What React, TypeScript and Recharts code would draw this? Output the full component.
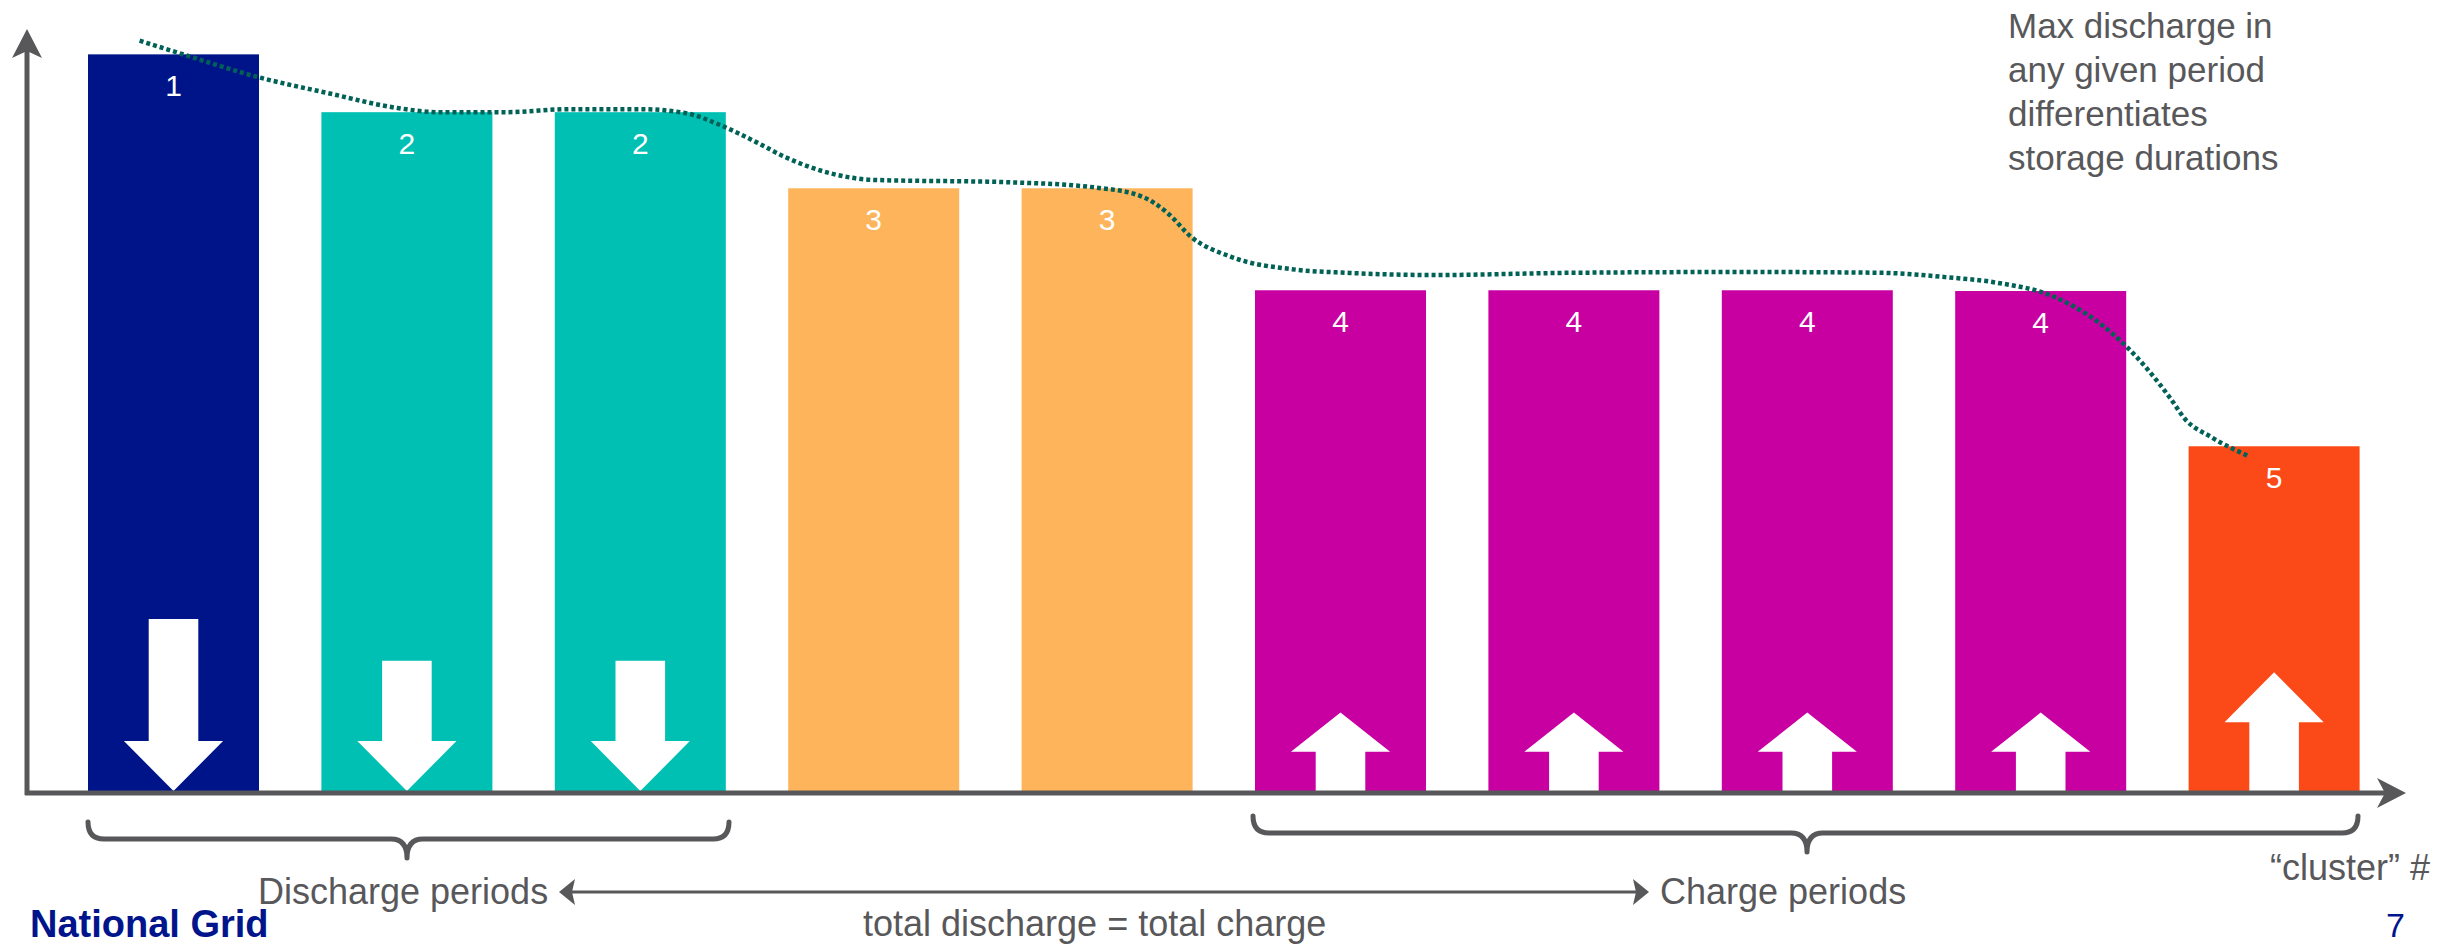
import { Bar, ComposedChart, Cell, LabelList, Line, XAxis, YAxis } from 'recharts';

// ten periods, grouped into "clusters" by their peak discharge level
const clusters = ['1', '2', '2', '3', '3', '4', '4', '4', '4', '5'];
const peakValues = [96.8, 89.2, 89.2, 79.2, 79.2, 65.8, 65.8, 65.8, 65.7, 45.3];
// negative = discharge, positive = charge (sums balance out)
const flowValues = [-22.6, -17.1, -17.1, 0, 0, 10.3, 10.3, 10.3, 10.3, 15.6];
const clusterColors: Record<string, string> = {
  '1': '#00148a',
  '2': '#00bfb3',
  '3': '#fdb45b',
  '4': '#c800a1',
  '5': '#fb4a18',
};

// hand-drawn envelope over the period peaks (x in period index units)
const envelopeX = [-0.146, 0.019, 0.375, 0.662, 0.949, 1.138, 1.425, 1.7, 2.0, 2.19, 2.35, 2.5, 2.62, 2.81, 3.0,
  3.57, 3.95, 4.15, 4.26, 4.36, 4.53, 4.81, 5.02, 5.4, 6.0, 6.74, 7.31, 7.6, 7.81, 8.06, 8.25, 8.37, 8.46,
  8.55, 8.62, 8.73, 8.89];
const envelopeY = [98.6, 97.0, 93.7, 91.7, 89.8, 89.2, 89.2, 89.6, 89.6, 89.1, 87.4, 85.2, 83.3, 81.2, 80.3,
  80.0, 79.3, 78.1, 75.9, 72.8, 70.2, 68.5, 68.1, 67.8, 68.1, 68.2, 68.1, 67.5, 66.8, 64.9, 61.5, 58.3, 55.3,
  51.8, 48.8, 46.5, 44.0];

const noteLines = ['Max discharge in', 'any given period', 'differentiates', 'storage durations'];

const periods = clusters.map((c, i) => ({
  name: `P${i + 1}`,
  cluster: c,
  peak: peakValues[i],
  flow: flowValues[i],
}));
const envelope = envelopeX.map((x, i) => ({ x, v: envelopeY[i] }));

const W = 2440;
const H = 946;
const GREY = '#58585b';
const NAVY = '#00148c';
const FONT = '"Liberation Sans", Arial, sans-serif';

// bar rectangle with a white flow arrow standing on the baseline
const PeriodBar = (props: any) => {
  const { x, y, width, height, fill, payload } = props;
  const base = y + height;
  const pxPerUnit = height / payload.peak;
  const len = Math.abs(payload.flow) * pxPerUnit;
  const cx = x + width / 2;
  const sw = (width * 0.29) / 2;
  const hw = (width * 0.58) / 2;
  const hl = Math.min(50, len / 2);
  let pts: number[][] = [];
  if (payload.flow < 0) {
    pts = [
      [cx - sw, base - len], [cx + sw, base - len], [cx + sw, base - hl], [cx + hw, base - hl],
      [cx, base], [cx - hw, base - hl], [cx - sw, base - hl],
    ];
  } else if (payload.flow > 0) {
    const t = base - len;
    pts = [
      [cx - sw, base], [cx + sw, base], [cx + sw, t + hl], [cx + hw, t + hl],
      [cx, t], [cx - hw, t + hl], [cx - sw, t + hl],
    ];
  }
  return (
    <g>
      <rect x={x} y={y} width={width} height={height} fill={fill} />
      {pts.length > 0 && <polygon points={pts.map((p) => p.join(',')).join(' ')} fill="#ffffff" />}
    </g>
  );
};

const ClusterLabel = (props: any) => {
  const { x, y, width, value } = props;
  return (
    <text x={x + width / 2} y={y + 31} textAnchor="middle" dominantBaseline="central"
      fill="#ffffff" fontSize={30} fontFamily={FONT}>
      {value}
    </text>
  );
};

const brace = (x0: number, x1: number, cx: number, top: number, mid: number, tip: number) => {
  const r = 16;
  return `M ${x0} ${top} Q ${x0} ${mid} ${x0 + r} ${mid} L ${cx - r} ${mid} Q ${cx} ${mid} ${cx} ${tip} `
    + `M ${cx} ${tip} Q ${cx} ${mid} ${cx + r} ${mid} L ${x1 - r} ${mid} Q ${x1} ${mid} ${x1} ${top}`;
};

export default function App() {
  return (
    <div style={{ position: 'absolute', left: 0, top: 0, width: W, height: H, background: '#fff', overflow: 'hidden' }}>
      <ComposedChart width={W} height={H} data={periods} margin={{ top: 30, right: 49, bottom: 155, left: 57 }}>
        <XAxis dataKey="name" hide />
        <XAxis xAxisId="curve" type="number" dataKey="x" domain={[-0.5, 9.5]} allowDataOverflow hide />
        <YAxis domain={[0, 100]} allowDataOverflow hide />
        <Bar dataKey="peak" barSize={171} shape={<PeriodBar />} isAnimationActive={false}>
          {periods.map((p, i) => (
            <Cell key={i} fill={clusterColors[p.cluster]} />
          ))}
          <LabelList dataKey="cluster" content={<ClusterLabel />} />
        </Bar>
        <Line
          xAxisId="curve"
          data={envelope}
          dataKey="v"
          type="monotone"
          stroke="#006157"
          strokeWidth={4.5}
          strokeDasharray="4 3"
          dot={false}
          activeDot={false}
          isAnimationActive={false}
        />
      </ComposedChart>

      <svg width={W} height={H} style={{ position: 'absolute', left: 0, top: 0, pointerEvents: 'none' }}>
        {/* axes */}
        <line x1={27} y1={795} x2={27} y2={50} stroke={GREY} strokeWidth={5} />
        <polygon points="27,29 42,58 27,51 12,58" fill={GREY} />
        <line x1={25} y1={793} x2={2392} y2={793} stroke={GREY} strokeWidth={5} />
        <polygon points="2406,793 2377,778 2385,793 2377,808" fill={GREY} />

        {/* period braces */}
        <path d={brace(88, 729, 407, 822, 839, 858)} fill="none" stroke={GREY} strokeWidth={5} strokeLinecap="round" />
        <path d={brace(1253, 2358, 1807, 816, 833, 852)} fill="none" stroke={GREY} strokeWidth={5} strokeLinecap="round" />

        {/* balance arrow */}
        <line x1={570} y1={892} x2={1638} y2={892} stroke={GREY} strokeWidth={3} />
        <polygon points="559,892 575,879 572,892 575,905" fill={GREY} />
        <polygon points="1649,892 1633,879 1636,892 1633,905" fill={GREY} />

        <g fontFamily={FONT} fill={GREY} fontSize={36}>
          <text x={258} y={904}>Discharge periods</text>
          <text x={1660} y={904}>Charge periods</text>
          <text x={863} y={936}>total discharge = total charge</text>
          <text x={2270} y={880}>“cluster” #</text>
        </g>

        <g fontFamily={FONT} fill={GREY} fontSize={35}>
          {noteLines.map((t, i) => (
            <text key={i} x={2008} y={38 + i * 44}>{t}</text>
          ))}
        </g>

        <text x={30} y={937} fontFamily={FONT} fontWeight="bold" fontSize={38} fill={NAVY}>National Grid</text>
        <text x={2386} y={937} fontFamily={FONT} fontSize={34} fill={NAVY}>7</text>
      </svg>
    </div>
  );
}
